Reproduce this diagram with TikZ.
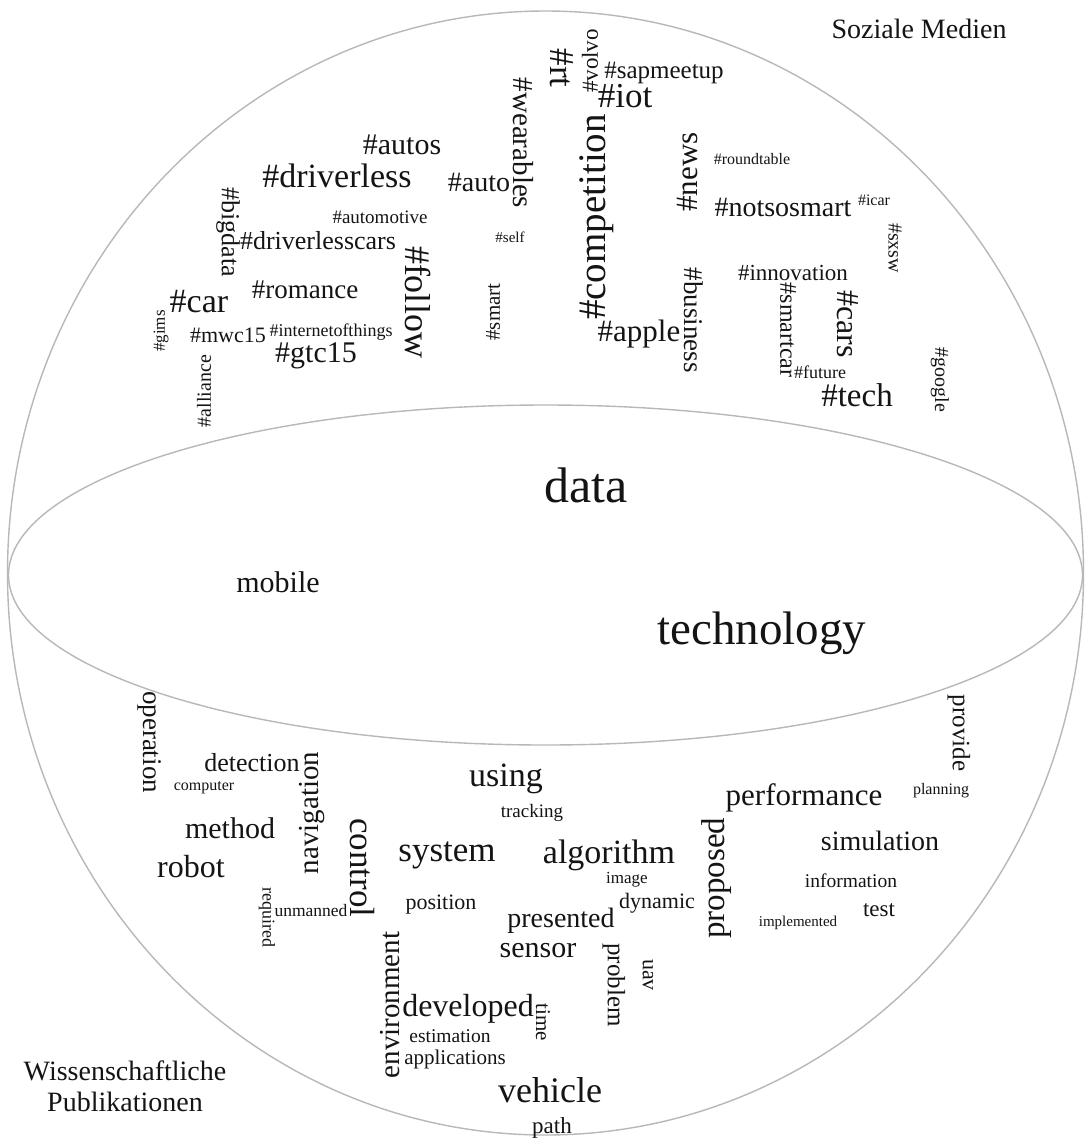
\documentclass[tikz,border=0pt]{standalone}
\usepackage{fontspec}
\setmainfont{Liberation Serif}
\tikzset{
  shell/.style={draw=black!28, line width=1.4pt},
  word/.style={inner sep=0pt, outer sep=0pt, text=black!92},
}
% one word of the cloud: name, x, y, size, rotation, text
\newcommand\cloudword[6]{%
  \node[word, rotate=#5] (#1) at (#2,#3) {\fontsize{#4}{#4}\selectfont #6};}
\begin{document}
\begin{tikzpicture}[x=1pt, y=-1pt]
\useasboundingbox (0,0) rectangle (1086,1141);
\fill[white] (0,0) rectangle (1086,1141);

% sphere and equator
\draw[shell] (545.5,573) ellipse [x radius=538pt, y radius=562pt];
\draw[shell] (545.5,575) ellipse [x radius=537pt, y radius=170pt];

% corner labels
\node[word, font=\fontsize{28}{28}\selectfont] (social) at (919,29) {Soziale Medien};
\node[word, align=center, font=\fontsize{28}{31}\selectfont] (science) at (125,1086)
  {Wissenschaftliche\\Publikationen};

% upper half: social media hashtags
\cloudword{rt}{562}{68}{35}{-90}{\#rt}
\cloudword{volvo}{590}{61}{23}{90}{\#volvo}
\cloudword{sapmeetup}{664}{73}{25}{0}{\#sapmeetup}
\cloudword{iot}{625}{96}{35}{0}{\#iot}
\cloudword{wearables}{523}{143}{29}{-90}{\#wearables}
\cloudword{autos}{402}{145}{30}{0}{\#autos}
\cloudword{driverless}{337}{176}{34}{0}{\#driverless}
\cloudword{automotive}{380}{217}{19}{0}{\#automotive}
\cloudword{driverlesscars}{318}{241}{26}{0}{\#driverlesscars}
\cloudword{bigdata}{228}{232}{26}{-90}{\#bigdata}
\cloudword{romance}{305}{290}{27}{0}{\#romance}
\cloudword{car}{199}{302}{34}{0}{\#car}
\cloudword{follow}{418}{302}{36}{-90}{\#follow}
\cloudword{gims}{161}{331}{17}{90}{\#gims}
\cloudword{mwc}{228}{335}{22}{0}{\#mwc15}
\cloudword{iotthings}{331}{332}{18}{0}{\#internetofthings}
\cloudword{gtc}{316}{356}{30}{0}{\#gtc15}
\cloudword{alliance}{204}{391}{20}{90}{\#alliance}
\cloudword{auto}{479}{182}{28}{0}{\#auto}
\cloudword{competition}{597}{217}{39}{90}{\#competition}
\cloudword{news}{687}{172}{31}{90}{\#news}
\cloudword{self}{510}{237}{15}{0}{\#self}
\cloudword{smart}{493}{312}{21}{90}{\#smart}
\cloudword{apple}{639}{334}{31}{0}{\#apple}
\cloudword{business}{694}{320}{27}{-90}{\#business}
\cloudword{roundtable}{752}{159}{16}{0}{\#roundtable}
\cloudword{notsosmart}{783}{207}{28}{0}{\#notsosmart}
\cloudword{icar}{874}{200}{16}{0}{\#icar}
\cloudword{sxsw}{895}{248}{20}{-90}{\#sxsw}
\cloudword{innovation}{793}{273}{23}{0}{\#innovation}
\cloudword{smartcar}{788}{330}{24}{-90}{\#smartcar}
\cloudword{cars}{848}{324}{32}{-90}{\#cars}
\cloudword{future}{820}{372}{18}{0}{\#future}
\cloudword{tech}{857}{395}{33}{0}{\#tech}
\cloudword{google}{940}{380}{20}{-90}{\#google}

% shared words on the equator
\cloudword{data}{586}{485}{50}{0}{data}
\cloudword{mobile}{278}{582}{30}{0}{mobile}
\cloudword{technology}{762}{633}{47}{0}{technology}

% lower half: words from publications
\cloudword{operation}{150}{742}{27}{-90}{operation}
\cloudword{detection}{252}{763}{26}{0}{detection}
\cloudword{computer}{204}{788}{16}{0}{computer}
\cloudword{navigation}{312}{813}{29}{90}{navigation}
\cloudword{method}{230}{828}{30}{0}{method}
\cloudword{robot}{191}{867}{32}{0}{robot}
\cloudword{control}{362}{868}{35}{-90}{control}
\cloudword{required}{267}{917}{18}{-90}{required}
\cloudword{unmanned}{311}{911}{17.5}{0}{unmanned}
\cloudword{using}{506}{779}{34}{0}{using}
\cloudword{tracking}{532}{813}{19}{0}{tracking}
\cloudword{system}{447}{855}{35}{0}{system}
\cloudword{algorithm}{609}{855}{34}{0}{algorithm}
\cloudword{image}{627}{880}{17}{0}{image}
\cloudword{position}{441}{905}{22}{0}{position}
\cloudword{dynamic}{657}{903}{22}{0}{dynamic}
\cloudword{presented}{561}{921}{28}{0}{presented}
\cloudword{sensor}{538}{951}{30}{0}{sensor}
\cloudword{provide}{959}{733}{25}{-90}{provide}
\cloudword{planning}{941}{791}{16}{0}{planning}
\cloudword{performance}{804}{798}{31}{0}{performance}
\cloudword{proposed}{717}{878}{33}{90}{proposed}
\cloudword{simulation}{880}{841}{28}{0}{simulation}
\cloudword{information}{851}{881}{19.5}{0}{information}
\cloudword{test}{879}{910}{23}{0}{test}
\cloudword{implemented}{798}{923}{15}{0}{implemented}
\cloudword{environment}{390}{1005}{29}{90}{environment}
\cloudword{developed}{468}{1009}{32}{0}{developed}
\cloudword{time}{543}{1022}{21}{-90}{time}
\cloudword{estimation}{450}{1036}{19.5}{0}{estimation}
\cloudword{applications}{455}{1059}{21}{0}{applications}
\cloudword{vehicle}{550}{1090}{36}{0}{vehicle}
\cloudword{path}{552}{1128}{23}{0}{path}
\cloudword{problem}{614}{985}{25}{-90}{problem}
\cloudword{uav}{648}{975}{22}{-90}{uav}
\end{tikzpicture}
\end{document}
